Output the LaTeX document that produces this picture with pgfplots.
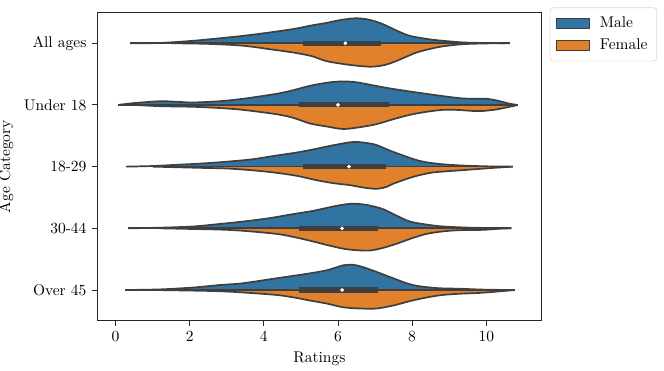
\documentclass[border=0pt]{standalone}
\usepackage{pgfplots}
\pgfplotsset{compat=1.18}
\definecolor{male}{HTML}{3274A1}
\definecolor{female}{HTML}{E1812C}
\definecolor{edge}{HTML}{3F3F3F}
\begin{document}
\begin{tikzpicture}
\begin{axis}[
  scale only axis, width=287pt, height=199pt,
  xmin=-0.5, xmax=11.5, ymin=-0.5, ymax=4.5, y dir=reverse,
  xtick={0,2,4,6,8,10},
  ytick={0,1,2,3,4},
  yticklabels={All ages,Under 18,18-29,30-44,Over 45},
  xlabel={Ratings}, ylabel={Age Category},
  tick align=outside, tick pos=left, major tick length=3.3pt,
  axis line style={black!85, line width=0.6pt},
  tick style={black!85, line width=0.6pt},
  legend style={at={(1.018,1.016)}, anchor=north west, draw=black!15,
    rounded corners=2pt, legend cell align=left, row sep=1.5pt,
    inner xsep=4pt, inner ysep=4pt,
    /tikz/every odd column/.append style={column sep=4.5pt},
    /tikz/every even column/.append style={column sep=1pt}},
  violin/.style={draw=edge, line width=1.1pt, smooth, tension=0.5, forget plot},
  box/.style={edge, line width=3.3pt, forget plot},
  whisk/.style={edge, line width=1.1pt, forget plot},
  med/.style={only marks, mark=*, mark size=1pt, white, forget plot},
]
\addlegendimage{legend image code/.code={\draw[sharp corners,fill=male,draw=edge,line width=0.6pt] (0pt,-3.3pt) rectangle (21pt,3.3pt);}}
\addlegendentry{Male}
\addlegendimage{legend image code/.code={\draw[sharp corners,fill=female,draw=edge,line width=0.6pt] (0pt,-3.3pt) rectangle (21pt,3.3pt);}}
\addlegendentry{Female}

% All ages (y = 0)
\addplot[violin, fill=male] coordinates {(0.39,0) (1.2,-0.005) (2.09,-0.04) (2.8,-0.08) (3.44,-0.12) (4.1,-0.17) (4.79,-0.23) (5.3,-0.29) (5.69,-0.33) (6.1,-0.38) (6.5,-0.405) (6.85,-0.38) (7.21,-0.31) (7.6,-0.2) (7.94,-0.12) (8.4,-0.07) (8.83,-0.04) (9.5,-0.01) (10.63,0)};
\addplot[violin, fill=female] coordinates {(1.5,0) (2.5,0.01) (3.44,0.04) (4.2,0.10) (4.79,0.15) (5.3,0.21) (5.69,0.29) (6.3,0.35) (6.86,0.38) (7.2,0.36) (7.48,0.31) (7.8,0.23) (8.12,0.15) (8.5,0.09) (8.83,0.05) (9.37,0.015) (10.0,0.003) (10.5,0)};
% Under 18 (y = 1)
\addplot[violin, fill=male] coordinates {(0.07,1) (0.5,0.97) (1.2,0.94) (1.7,0.95) (2.09,0.96) (2.8,0.94) (3.44,0.90) (4.34,0.82) (4.8,0.76) (5.24,0.69) (5.7,0.64) (6.05,0.62) (6.4,0.625) (6.67,0.65) (7.1,0.70) (7.48,0.74) (8.38,0.82) (9.28,0.89) (9.7,0.90) (10.0,0.90) (10.3,0.93) (10.63,0.98) (10.85,1)};
\addplot[violin, fill=female] coordinates {(0.5,1) (1.2,1.02) (2.09,1.03) (2.8,1.05) (3.44,1.08) (4.34,1.15) (4.8,1.21) (5.24,1.30) (5.7,1.35) (6.14,1.39) (6.6,1.36) (7.05,1.31) (7.5,1.23) (7.94,1.16) (8.4,1.11) (8.83,1.08) (9.2,1.08) (9.8,1.10) (10.3,1.07) (10.85,1)};
% 18-29 (y = 2)
\addplot[violin, fill=male] coordinates {(0.28,2) (1.0,1.99) (1.65,1.97) (2.3,1.95) (3.0,1.92) (3.7,1.88) (4.34,1.82) (4.9,1.77) (5.42,1.71) (5.9,1.65) (6.41,1.60) (6.75,1.615) (7.04,1.65) (7.4,1.74) (7.76,1.82) (8.1,1.89) (8.39,1.93) (8.8,1.96) (9.28,1.98) (10.0,1.995) (10.72,2)};
\addplot[violin, fill=female] coordinates {(1.0,2) (1.65,2.01) (2.3,2.02) (3.0,2.03) (3.7,2.06) (4.34,2.10) (4.9,2.15) (5.42,2.22) (5.9,2.27) (6.32,2.30) (6.7,2.34) (7.04,2.36) (7.3,2.33) (7.48,2.28) (7.8,2.21) (8.12,2.15) (8.5,2.10) (8.83,2.08) (9.3,2.06) (9.74,2.04) (10.2,2.02) (10.72,2)};
% 30-44 (y = 3)
\addplot[violin, fill=male] coordinates {(0.34,3) (1.2,2.99) (2.09,2.97) (2.8,2.93) (3.44,2.89) (4.1,2.84) (4.79,2.77) (5.3,2.72) (5.69,2.67) (6.1,2.62) (6.46,2.60) (6.85,2.63) (7.22,2.69) (7.6,2.80) (7.94,2.89) (8.4,2.94) (8.83,2.97) (9.6,2.99) (10.68,3)};
\addplot[violin, fill=female] coordinates {(1.2,3) (2.0,3.01) (2.8,3.02) (3.44,3.04) (4.34,3.09) (4.8,3.14) (5.24,3.20) (5.7,3.27) (6.14,3.33) (6.5,3.355) (6.86,3.36) (7.2,3.32) (7.58,3.25) (8.0,3.16) (8.39,3.09) (8.83,3.05) (9.28,3.03) (9.9,3.025) (10.4,3.005) (10.68,3)};
% Over 45 (y = 4)
\addplot[violin, fill=male] coordinates {(0.26,4) (1.2,3.99) (2.09,3.96) (2.8,3.92) (3.44,3.89) (4.34,3.81) (4.8,3.77) (5.24,3.73) (5.7,3.68) (6.14,3.60) (6.4,3.59) (6.68,3.63) (7.1,3.72) (7.49,3.81) (7.9,3.90) (8.21,3.94) (8.7,3.97) (9.3,3.98) (10.0,3.995) (10.77,4)};
\addplot[violin, fill=female] coordinates {(1.0,4) (2.09,4.01) (2.8,4.02) (3.44,4.04) (4.34,4.08) (4.8,4.12) (5.24,4.17) (5.7,4.22) (6.14,4.28) (6.6,4.30) (7.04,4.30) (7.5,4.25) (7.94,4.18) (8.4,4.12) (8.83,4.08) (9.3,4.06) (9.74,4.05) (10.2,4.03) (10.77,4)};

% centre lines (violin bases)
\addplot[whisk] coordinates {(0.39,0) (10.63,0)};
\addplot[whisk] coordinates {(0.07,1) (10.85,1)};
\addplot[whisk] coordinates {(0.28,2) (10.72,2)};
\addplot[whisk] coordinates {(0.34,3) (10.68,3)};
\addplot[whisk] coordinates {(0.26,4) (10.77,4)};

% inner boxes (quartiles) and medians
\addplot[box] coordinates {(5.06,0) (7.17,0)};
\addplot[box] coordinates {(4.95,1) (7.38,1)};
\addplot[box] coordinates {(5.06,2) (7.29,2)};
\addplot[box] coordinates {(4.95,3) (7.08,3)};
\addplot[box] coordinates {(4.95,4) (7.08,4)};
\addplot[med] coordinates {(6.2,0) (6.0,1) (6.3,2) (6.11,3) (6.11,4)};
\end{axis}
\pgfresetboundingbox
\path[use as bounding box] ([shift={(-62.6pt,-32.3pt)}]current axis.south west) rectangle ([shift={(365.8pt,207pt)}]current axis.south west);
\end{tikzpicture}
\end{document}
